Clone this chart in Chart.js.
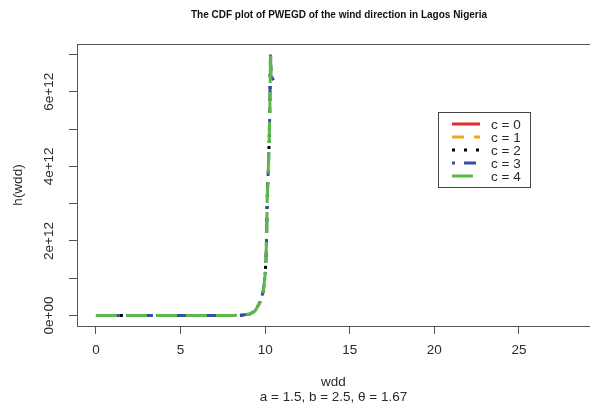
<!DOCTYPE html>
<html>
<head>
<meta charset="utf-8">
<script src="https://cdn.jsdelivr.net/npm/chart.js@4/dist/chart.umd.min.js"></script>
<style>
  html, body { margin: 0; padding: 0; background: #fff; }
  #box { width: 590px; height: 410px; }
</style>
</head>
<body>
<div id="box"><canvas id="grafico"></canvas></div>
<script>
// valores
const rotulos = ['c = 0', 'c = 1', 'c = 2', 'c = 3', 'c = 4'];
const cores = ['#e8262b', '#f5a31c', '#000000', '#3550a6', '#5cb848'];
const tracos = [[], [12, 10], [3, 9], [3, 9, 12, 9], [21, 9]];

// só aparecem as curvas de c = 2, 3 e 4 (e coincidem)
const visiveis = [2, 3, 4];
const wdd = [0, 1, 2, 3, 4, 5, 6, 7, 8, 8.6, 9.1, 9.4, 9.69, 9.89, 9.99, 10.05, 10.09,
             10.12, 10.18, 10.24, 10.28, 10.30, 10.32, 10.35, 10.48];
const hwdd = [0, 0, 0, 0, 0, 0, 0, 0, 0.002e12, 0.01e12, 0.04e12, 0.12e12, 0.35e12, 0.65e12,
              1.05e12, 1.5e12, 2.22e12, 3.1e12, 3.83e12, 4.72e12, 5.61e12, 6.5e12, 7.0e12,
              6.45e12, 6.31e12];

const ticksX = [0, 5, 10, 15, 20, 25];
const ticksY = [0, 1e12, 2e12, 3e12, 4e12, 5e12, 6e12, 7e12];

const fonte = "'Liberation Sans', Arial, sans-serif";
const corTexto = '#2a2a2a';
const corEixo = '#555555';

function formatarY(v) {
    if (v % 2e12 !== 0) return '';
    if (v === 0) return '0e+00';
    return (v / 1e12) + 'e+12';
}

const molduraPlugin = {
    id: 'moldura',
    afterDraw(chart) {
        const ctx = chart.ctx;
        const a = chart.chartArea;
        ctx.save();
        // caixa do gráfico
        ctx.strokeStyle = corEixo;
        ctx.lineWidth = 1;
        ctx.strokeRect(a.left + 0.5, a.top + 0.5, a.right - a.left + 5, a.bottom - a.top);

        // título
        ctx.fillStyle = '#111';
        ctx.font = 'bold 10px ' + fonte;
        ctx.textAlign = 'center';
        ctx.textBaseline = 'middle';
        ctx.fillText('The CDF plot of PWEGD of the wind direction in Lagos Nigeria', 339, 15);

        // legenda
        ctx.strokeStyle = '#444';
        ctx.strokeRect(438.5, 112.5, 92, 75);
        ctx.font = '13.5px ' + fonte;
        ctx.textAlign = 'left';
        ctx.fillStyle = corTexto;
        rotulos.forEach((r, i) => {
            const y = 124 + i * 13;
            ctx.beginPath();
            ctx.setLineDash(tracos[i]);
            ctx.strokeStyle = cores[i];
            ctx.lineWidth = 3;
            ctx.moveTo(452, y);
            ctx.lineTo(480, y);
            ctx.stroke();
            ctx.setLineDash([]);
            ctx.fillText(r, 491, y + 1);
        });
        ctx.restore();
    }
};

const ctx = document.getElementById('grafico').getContext('2d');

new Chart(ctx, {
    type: 'line',
    data: {
        datasets: visiveis.map(i => ({
            label: rotulos[i],
            data: wdd.map((x, k) => ({ x: x, y: hwdd[k] })),
            borderColor: cores[i],
            borderDash: tracos[i],
            borderWidth: 3,
            pointRadius: 0,
            tension: 0,
            fill: false,
            order: 4 - i
        }))
    },
    options: {
        responsive: true,
        maintainAspectRatio: false,
        animation: false,
        layout: { padding: { top: 44, right: 0, bottom: 0, left: 0 } },
        plugins: {
            legend: { display: false },
            title: { display: false },
            tooltip: { enabled: false }
        },
        scales: {
            x: {
                type: 'linear',
                min: -1.12,
                max: 29.2,
                afterBuildTicks: (s) => { s.ticks = ticksX.map(v => ({ value: v })); },
                afterFit: (s) => { s.height = 84; },
                border: { display: false },
                grid: { drawOnChartArea: false, drawTicks: true, tickLength: 8, color: corEixo },
                ticks: {
                    autoSkip: false,
                    maxRotation: 0,
                    padding: 8,
                    color: corTexto,
                    font: { family: fonte, size: 13.5 }
                },
                title: {
                    display: true,
                    text: ['wdd', 'a = 1.5, b = 2.5, \u03B8 = 1.67'],
                    color: corTexto,
                    font: { family: fonte, size: 13.5, lineHeight: 1.1 },
                    padding: { top: 0, bottom: 5 }
                }
            },
            y: {
                type: 'linear',
                min: -0.28e12,
                max: 7.28e12,
                afterBuildTicks: (s) => { s.ticks = ticksY.map(v => ({ value: v })); },
                afterFit: (s) => { s.width = 77; },
                border: { display: false },
                grid: { drawOnChartArea: false, drawTicks: true, tickLength: 8, color: corEixo },
                ticks: {
                    autoSkip: false,
                    minRotation: 90,
                    maxRotation: 90,
                    crossAlign: 'center',
                    padding: 1,
                    color: corTexto,
                    font: { family: fonte, size: 13.5 },
                    callback: formatarY
                },
                title: {
                    display: true,
                    text: 'h(wdd)',
                    color: corTexto,
                    font: { family: fonte, size: 13.5 },
                    padding: { top: 10, bottom: 0 }
                }
            }
        }
    },
    plugins: [molduraPlugin]
});
</script>
</body>
</html>
